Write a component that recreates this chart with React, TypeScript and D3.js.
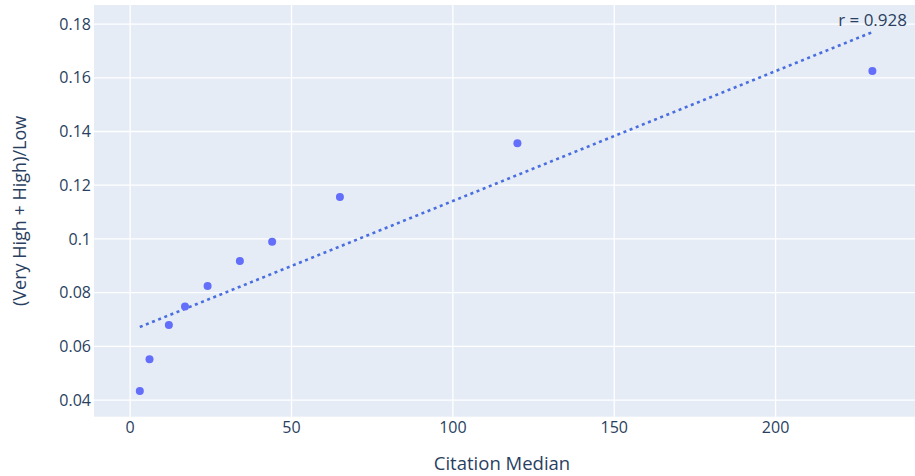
import React from "react";
import * as d3 from "d3";

const citationMedian = [3, 6, 12, 17, 24, 34, 44, 65, 120, 230];
const ratio = [0.0434, 0.0552, 0.0679, 0.0748, 0.0825, 0.0918, 0.0989, 0.1156, 0.1356, 0.1625];
const trendX = [3, 230];
const trendY = [0.0672, 0.177];
const xTicks = [0, 50, 100, 150, 200];
const yTicks = [0.04, 0.06, 0.08, 0.1, 0.12, 0.14, 0.16, 0.18];
const yTickLabels = ["0.04", "0.06", "0.08", "0.1", "0.12", "0.14", "0.16", "0.18"];
const annotation = "r = 0.928";

const W = 915;
const H = 476;
const L = 94, R = 915, T = 5, B = 416.7;
const FONT = "'Open Sans', Verdana, Arial, sans-serif";
const TXT = "#2a3f5f";

export default function App() {
  const x = d3.scaleLinear().domain([-11.2, 243.2]).range([L, R]);
  const y = d3.scaleLinear().domain([0.0338, 0.1871]).range([B, T]);
  const line = d3
    .line<number>()
    .x((d, i) => x(trendX[i]))
    .y((d) => y(d));
  return (
    <svg width={W} height={H} style={{ position: "absolute", left: 0, top: 0 }} fontFamily={FONT}>
      <rect x={L} y={T} width={R - L} height={B - T} fill="#e5ecf6" />
      {xTicks.map((t) => (
        <line key={"gx" + t} x1={x(t)} x2={x(t)} y1={T} y2={B} stroke="#fff" strokeWidth={1.3} />
      ))}
      {yTicks.map((t) => (
        <line key={"gy" + t} x1={L} x2={R} y1={y(t)} y2={y(t)} stroke="#fff" strokeWidth={1.3} />
      ))}
      {xTicks.map((t) => (
        <text key={"tx" + t} x={x(t)} y={433} textAnchor="middle" fontSize={16} fill={TXT}>
          {t}
        </text>
      ))}
      {yTicks.map((t, i) => (
        <text key={"ty" + t} x={91} y={y(t)} dy="0.35em" textAnchor="end" fontSize={16} fill={TXT}>
          {yTickLabels[i]}
        </text>
      ))}
      <path d={line(trendY) || ""} fill="none" stroke="#4a6ee0" strokeWidth={2.6} strokeDasharray="3,3.6" />
      {citationMedian.map((c, i) => (
        <circle key={"p" + i} cx={x(c)} cy={y(ratio[i])} r={4} fill="#636efa" />
      ))}
      <text x={907} y={26} textAnchor="end" fontSize={17} fill={TXT}>
        {annotation}
      </text>
      <text x={502} y={470} textAnchor="middle" fontSize={18.5} fill={TXT}>
        Citation Median
      </text>
      <text
        transform={`translate(26, ${(T + B) / 2}) rotate(-90)`}
        textAnchor="middle"
        fontSize={18}
        fill={TXT}
      >
        (Very High + High)/Low
      </text>
    </svg>
  );
}
